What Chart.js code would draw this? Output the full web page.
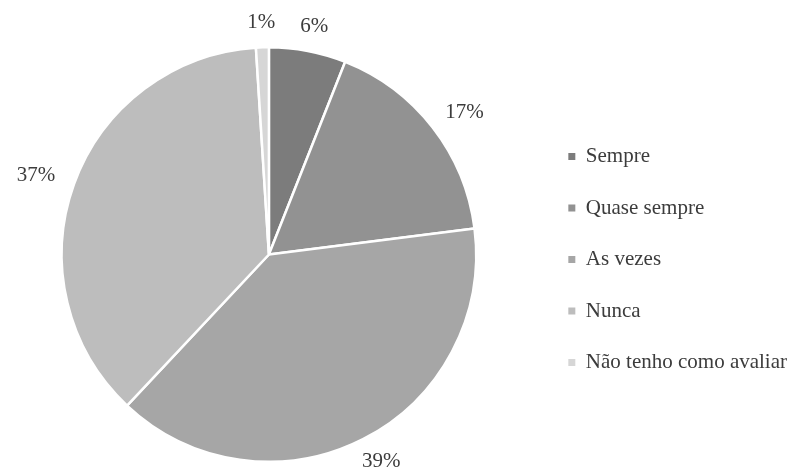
<!DOCTYPE html>
<html>
<head>
<meta charset="utf-8">
<script src="https://cdn.jsdelivr.net/npm/chart.js@4"></script>
<style>
    body { margin: 0; background: #fff; }
</style>
</head>
<body>
<canvas id="pieChart" width="802" height="474"></canvas>
<script>
const categories = ['Sempre', 'Quase sempre', 'As vezes', 'Nunca', 'Não tenho como avaliar'];
const percents = [6, 17, 39, 37, 1];
const sliceColors = ['#7c7c7c', '#929292', '#a6a6a6', '#bdbdbd', '#d6d6d6'];

const textColor = '#3c3c3c';
const serif = '"Liberation Serif", "Times New Roman", serif';

// étiquettes en % à l'extérieur de chaque part
const outsideLabels = {
    id: 'outsideLabels',
    afterDatasetsDraw(chart) {
        const ctx = chart.ctx;
        const arcs = chart.getDatasetMeta(0).data;
        ctx.save();
        ctx.font = '21px ' + serif;
        ctx.fillStyle = textColor;
        ctx.textAlign = 'center';
        ctx.textBaseline = 'middle';
        arcs.forEach((arc, i) => {
            const mid = (arc.startAngle + arc.endAngle) / 2;
            const dx = Math.cos(mid), dy = Math.sin(mid);
            const text = percents[i] + '%';
            const halfW = ctx.measureText(text).width / 2;
            const r = arc.outerRadius + 21;
            const x = arc.x + dx * r + dx * halfW;
            const y = arc.y + dy * r + dy * 4;
            ctx.fillText(text, x, y);
        });
        ctx.restore();
    }
};

const ctx = document.getElementById('pieChart').getContext('2d');
new Chart(ctx, {
    type: 'pie',
    data: {
        labels: categories,
        datasets: [{
            data: percents,
            backgroundColor: sliceColors,
            borderColor: '#ffffff',
            borderWidth: 2.5
        }]
    },
    options: {
        responsive: false,
        animation: false,
        layout: { padding: { top: 46, bottom: 11, left: 0, right: 5 } },
        plugins: {
            tooltip: { enabled: false },
            legend: {
                position: 'right',
                align: 'center',
                // titre vide : sert seulement à descendre la légende de quelques pixels
                title: { display: true, text: ' ', padding: 0, font: { size: 10, lineHeight: 1 } },
                labels: {
                    color: textColor,
                    font: { family: serif, size: 21 },
                    boxWidth: 7,
                    boxHeight: 7,
                    padding: 30.5,
                    generateLabels(chart) {
                        const items = Chart.overrides.pie.plugins.legend.labels.generateLabels(chart);
                        return items.map(it => Object.assign(it, { lineWidth: 0, strokeStyle: it.fillStyle }));
                    }
                }
            }
        }
    },
    plugins: [outsideLabels]
});
</script>
</body>
</html>
